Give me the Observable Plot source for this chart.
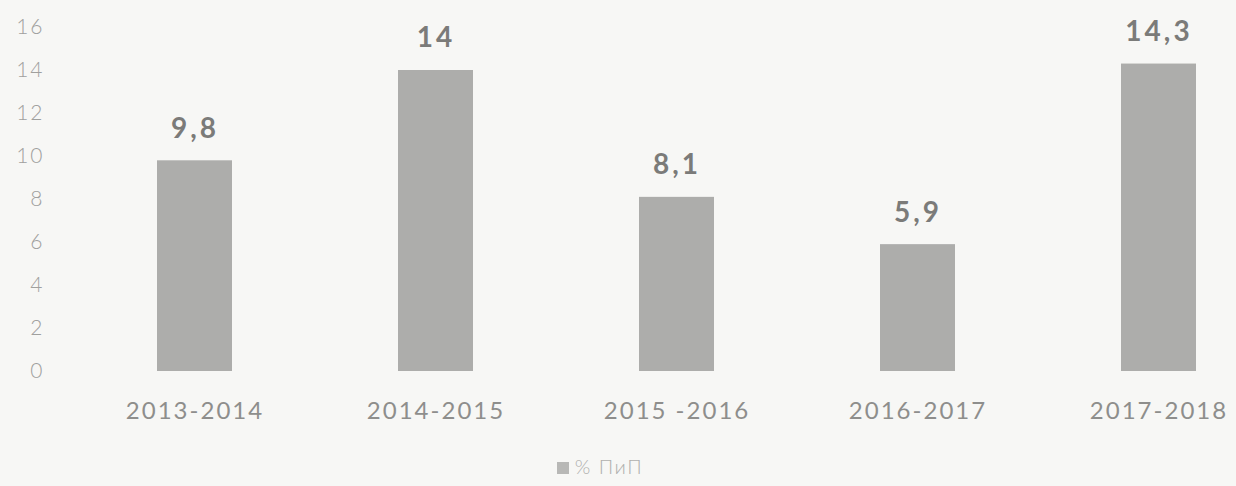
<!DOCTYPE html>
<html><head><meta charset="utf-8">
<script src="https://cdn.jsdelivr.net/npm/d3@7"></script>
<script src="https://cdn.jsdelivr.net/npm/@observablehq/plot@0.6"></script>
<style>
html,body{margin:0;padding:0;background:#f7f7f5;}
#legend{font-family:Lato,"Open Sans",sans-serif;font-size:20px;font-weight:300;letter-spacing:1.5px;color:#b0b0ae;text-align:center;margin-left:-36px;margin-top:14px;}
#legend span.sw{display:inline-block;width:12px;height:12px;background:#b8b8b6;margin-right:6px;vertical-align:0px;}
.ytk text{letter-spacing:2px;}
.xtk text{letter-spacing:2px;}
.vl text{letter-spacing:3px;}
</style></head><body>
<div id="chart"></div>
<div id="legend"><span class="sw"></span>% ПиП</div>
<script>
const categories = ["2013-2014","2014-2015","2015 -2016","2016-2017","2017-2018"];
const values = [9.8, 14, 8.1, 5.9, 14.3];
const valueLabels = ["9,8","14","8,1","5,9","14,3"];
const yTicks = [0,2,4,6,8,10,12,14,16];

const data = categories.map((c,i)=>({cat:c, v:values[i], lab:valueLabels[i]}));

const chart = Plot.plot({
  width: 1236,
  height: 440,
  marginTop: 27,
  marginBottom: 69,
  marginLeft: 72,
  marginRight: 0,
  style: {background:"#f7f7f5", fontFamily:"Lato, 'Open Sans', sans-serif"},
  x: {domain: categories, range:[72,1280], paddingInner:0.69, paddingOuter:0.345, label:null},
  y: {domain:[0,16], ticks: yTicks, label:null},
  marks: [
    Plot.barY(data, {x:"cat", y:"v", fill:"#adadab"}),
    Plot.text(data, {x:"cat", y:"v", text:"lab", dy:-32, fontSize:28, fontWeight:"bold", fill:"#7b7b79", className:"vl"}),
    Plot.axisY({ticks: yTicks, tickSize:0, tickPadding:28, fontSize:21, fontWeight:300, fill:"#a0a09e", label:null, className:"ytk"}),
    Plot.axisX({tickSize:0, tickPadding:30, fontSize:24, fill:"#8e8e8c", label:null, className:"xtk"})
  ]
});
document.getElementById("chart").appendChild(chart);
</script>
</body></html>
